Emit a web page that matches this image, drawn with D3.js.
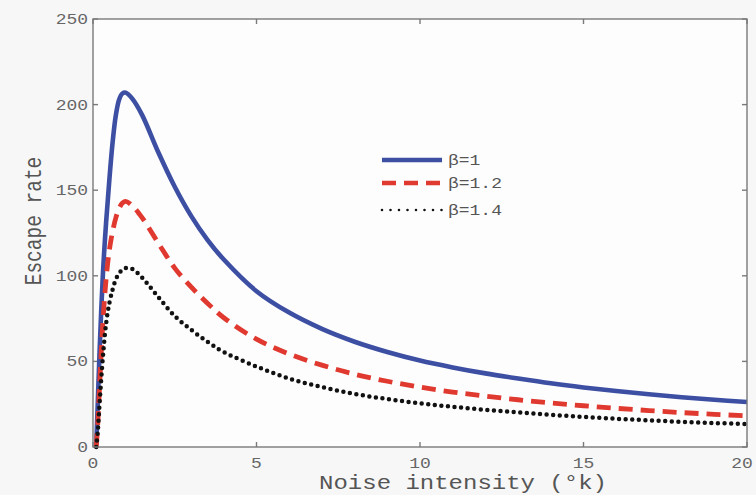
<!DOCTYPE html>
<html>
<head>
<meta charset="utf-8">
<script src="https://cdn.jsdelivr.net/npm/d3@7"></script>
<style>
  html, body { margin: 0; padding: 0; background: #f7f7f7; }
  svg { display: block; }
</style>
</head>
<body>
<svg id="chart" width="756" height="495"></svg>
<script>
// Noise intensity (°k)
const noise = [0.1, 0.15, 0.2, 0.3, 0.4, 0.5, 0.6, 0.7, 0.8, 0.9, 1.0, 1.2, 1.5, 2.0, 2.5, 3.0, 3.5, 4.0,
  5, 6, 7, 8, 9, 10, 11, 12, 13, 14, 15, 16, 17, 18, 19, 20];

// Escape rate for each β
const rateBeta1 = [1, 28, 55, 100, 131, 156, 178, 194, 203, 206.5, 207, 203.5, 194, 172, 152, 135, 121, 109.5,
  91, 78.5, 69, 61.5, 55.5, 50.5, 46.5, 43, 40, 37.2, 34.8, 32.7, 30.8, 29.1, 27.6, 26.3];
const rateBeta12 = [0, 15, 35, 72, 98, 115, 126, 134, 139.5, 142.5, 143.5, 141, 134, 119, 104.5, 93.5, 84, 75.5,
  63, 54.3, 47.8, 42.5, 38.4, 35, 32.1, 29.7, 27.6, 25.7, 24.1, 22.6, 21.3, 20.1, 19.1, 18.2];
const rateBeta14 = [0, 10, 25, 52, 72, 84, 92, 98, 101.5, 103.5, 104.5, 104, 99, 87.5, 76.5, 68.5, 61.5, 55.5,
  47, 40, 35, 31, 28, 25.5, 23.5, 21.7, 20.2, 18.8, 17.6, 16.5, 15.6, 14.7, 14, 13.4];

const seriesNames = ["β=1", "β=1.2", "β=1.4"];
const xTicks = [0, 5, 10, 15, 20];
const yTicks = [0, 50, 100, 150, 200, 250];

const svg = d3.select("#chart");
const plotLeft = 93, plotRight = 747, plotTop = 19, plotBottom = 447;
const stretch = 1.2;
const font = "'Liberation Mono', 'DejaVu Sans Mono', monospace";

const x = d3.scaleLinear().domain([0, 20]).range([plotLeft, plotRight]);
const y = d3.scaleLinear().domain([0, 250]).range([plotBottom, plotTop]);

// plot area
svg.append("rect")
  .attr("x", plotLeft).attr("y", plotTop)
  .attr("width", plotRight - plotLeft).attr("height", plotBottom - plotTop)
  .attr("fill", "#fdfdfd");

// text helper: monospace glyphs, slightly widened
function label(px, py, str, size, anchor, fill, rot) {
  const g = svg.append("g")
    .attr("transform", `translate(${px},${py}) scale(${stretch},1)` + (rot ? ` rotate(${rot})` : ""));
  g.append("text")
    .attr("text-anchor", anchor)
    .attr("font-family", font)
    .attr("font-size", size)
    .attr("fill", fill)
    .text(str);
}

// axes with inward ticks on all four sides
const axisColor = "#7a7a7a";
const tickLen = 5;
const gAx = svg.append("g").attr("stroke", axisColor).attr("stroke-width", 1.4).attr("fill", "none");
xTicks.forEach(t => {
  gAx.append("line").attr("x1", x(t)).attr("x2", x(t)).attr("y1", plotBottom).attr("y2", plotBottom - tickLen);
  gAx.append("line").attr("x1", x(t)).attr("x2", x(t)).attr("y1", plotTop).attr("y2", plotTop + tickLen);
});
yTicks.forEach(t => {
  gAx.append("line").attr("x1", plotLeft).attr("x2", plotLeft + tickLen).attr("y1", y(t)).attr("y2", y(t));
  gAx.append("line").attr("x1", plotRight).attr("x2", plotRight - tickLen).attr("y1", y(t)).attr("y2", y(t));
});

// the last x label sits on the window edge; shift it just enough to stay readable
xTicks.forEach(t => label(Math.min(x(t), 742), 467.5, String(t), 15, "middle", "#666"));
yTicks.forEach(t => label(88, y(t) + 5, String(t), 15, "end", "#666"));

label(463, 489, "Noise intensity (°k)", 20, "middle", "#555");
label(41, 221, "Escape rate", 19.5, "middle", "#555", -90);

// curves
const styles = [
  { data: rateBeta1,  color: "#3d4fa3", width: 4.6, dash: null, cap: "butt" },
  { data: rateBeta12, color: "#e0392f", width: 4.8, dash: "14 8", cap: "butt" },
  { data: rateBeta14, color: "#111111", width: 4.5, dash: "0 6.6", cap: "round" }
];

const line = d3.line()
  .x(d => x(d[0]))
  .y(d => y(d[1]))
  .curve(d3.curveCatmullRom.alpha(0.5));

styles.forEach(s => {
  svg.append("path")
    .datum(noise.map((n, i) => [n, s.data[i]]))
    .attr("d", line)
    .attr("fill", "none")
    .attr("stroke", s.color)
    .attr("stroke-width", s.width)
    .attr("stroke-linecap", s.cap)
    .attr("stroke-linejoin", "round")
    .attr("stroke-dasharray", s.dash);
});

// frame on top
svg.append("rect")
  .attr("x", plotLeft).attr("y", plotTop)
  .attr("width", plotRight - plotLeft).attr("height", plotBottom - plotTop)
  .attr("fill", "none").attr("stroke", axisColor).attr("stroke-width", 1.4);

// legend
const legendRows = [
  { y: 160, color: "#3d4fa3", width: 4.5, dash: null, cap: "butt" },
  { y: 183, color: "#e0392f", width: 4.5, dash: "14 8", cap: "butt" },
  { y: 210, color: "#111111", width: 2.6, dash: "0 8.5", cap: "round" }
];
legendRows.forEach((r, i) => {
  svg.append("line")
    .attr("x1", 382).attr("x2", 442)
    .attr("y1", r.y).attr("y2", r.y)
    .attr("stroke", r.color)
    .attr("stroke-width", r.width)
    .attr("stroke-linecap", r.cap)
    .attr("stroke-dasharray", r.dash);
  label(448, r.y + 5, seriesNames[i], 15, "start", "#555");
});
</script>
</body>
</html>
